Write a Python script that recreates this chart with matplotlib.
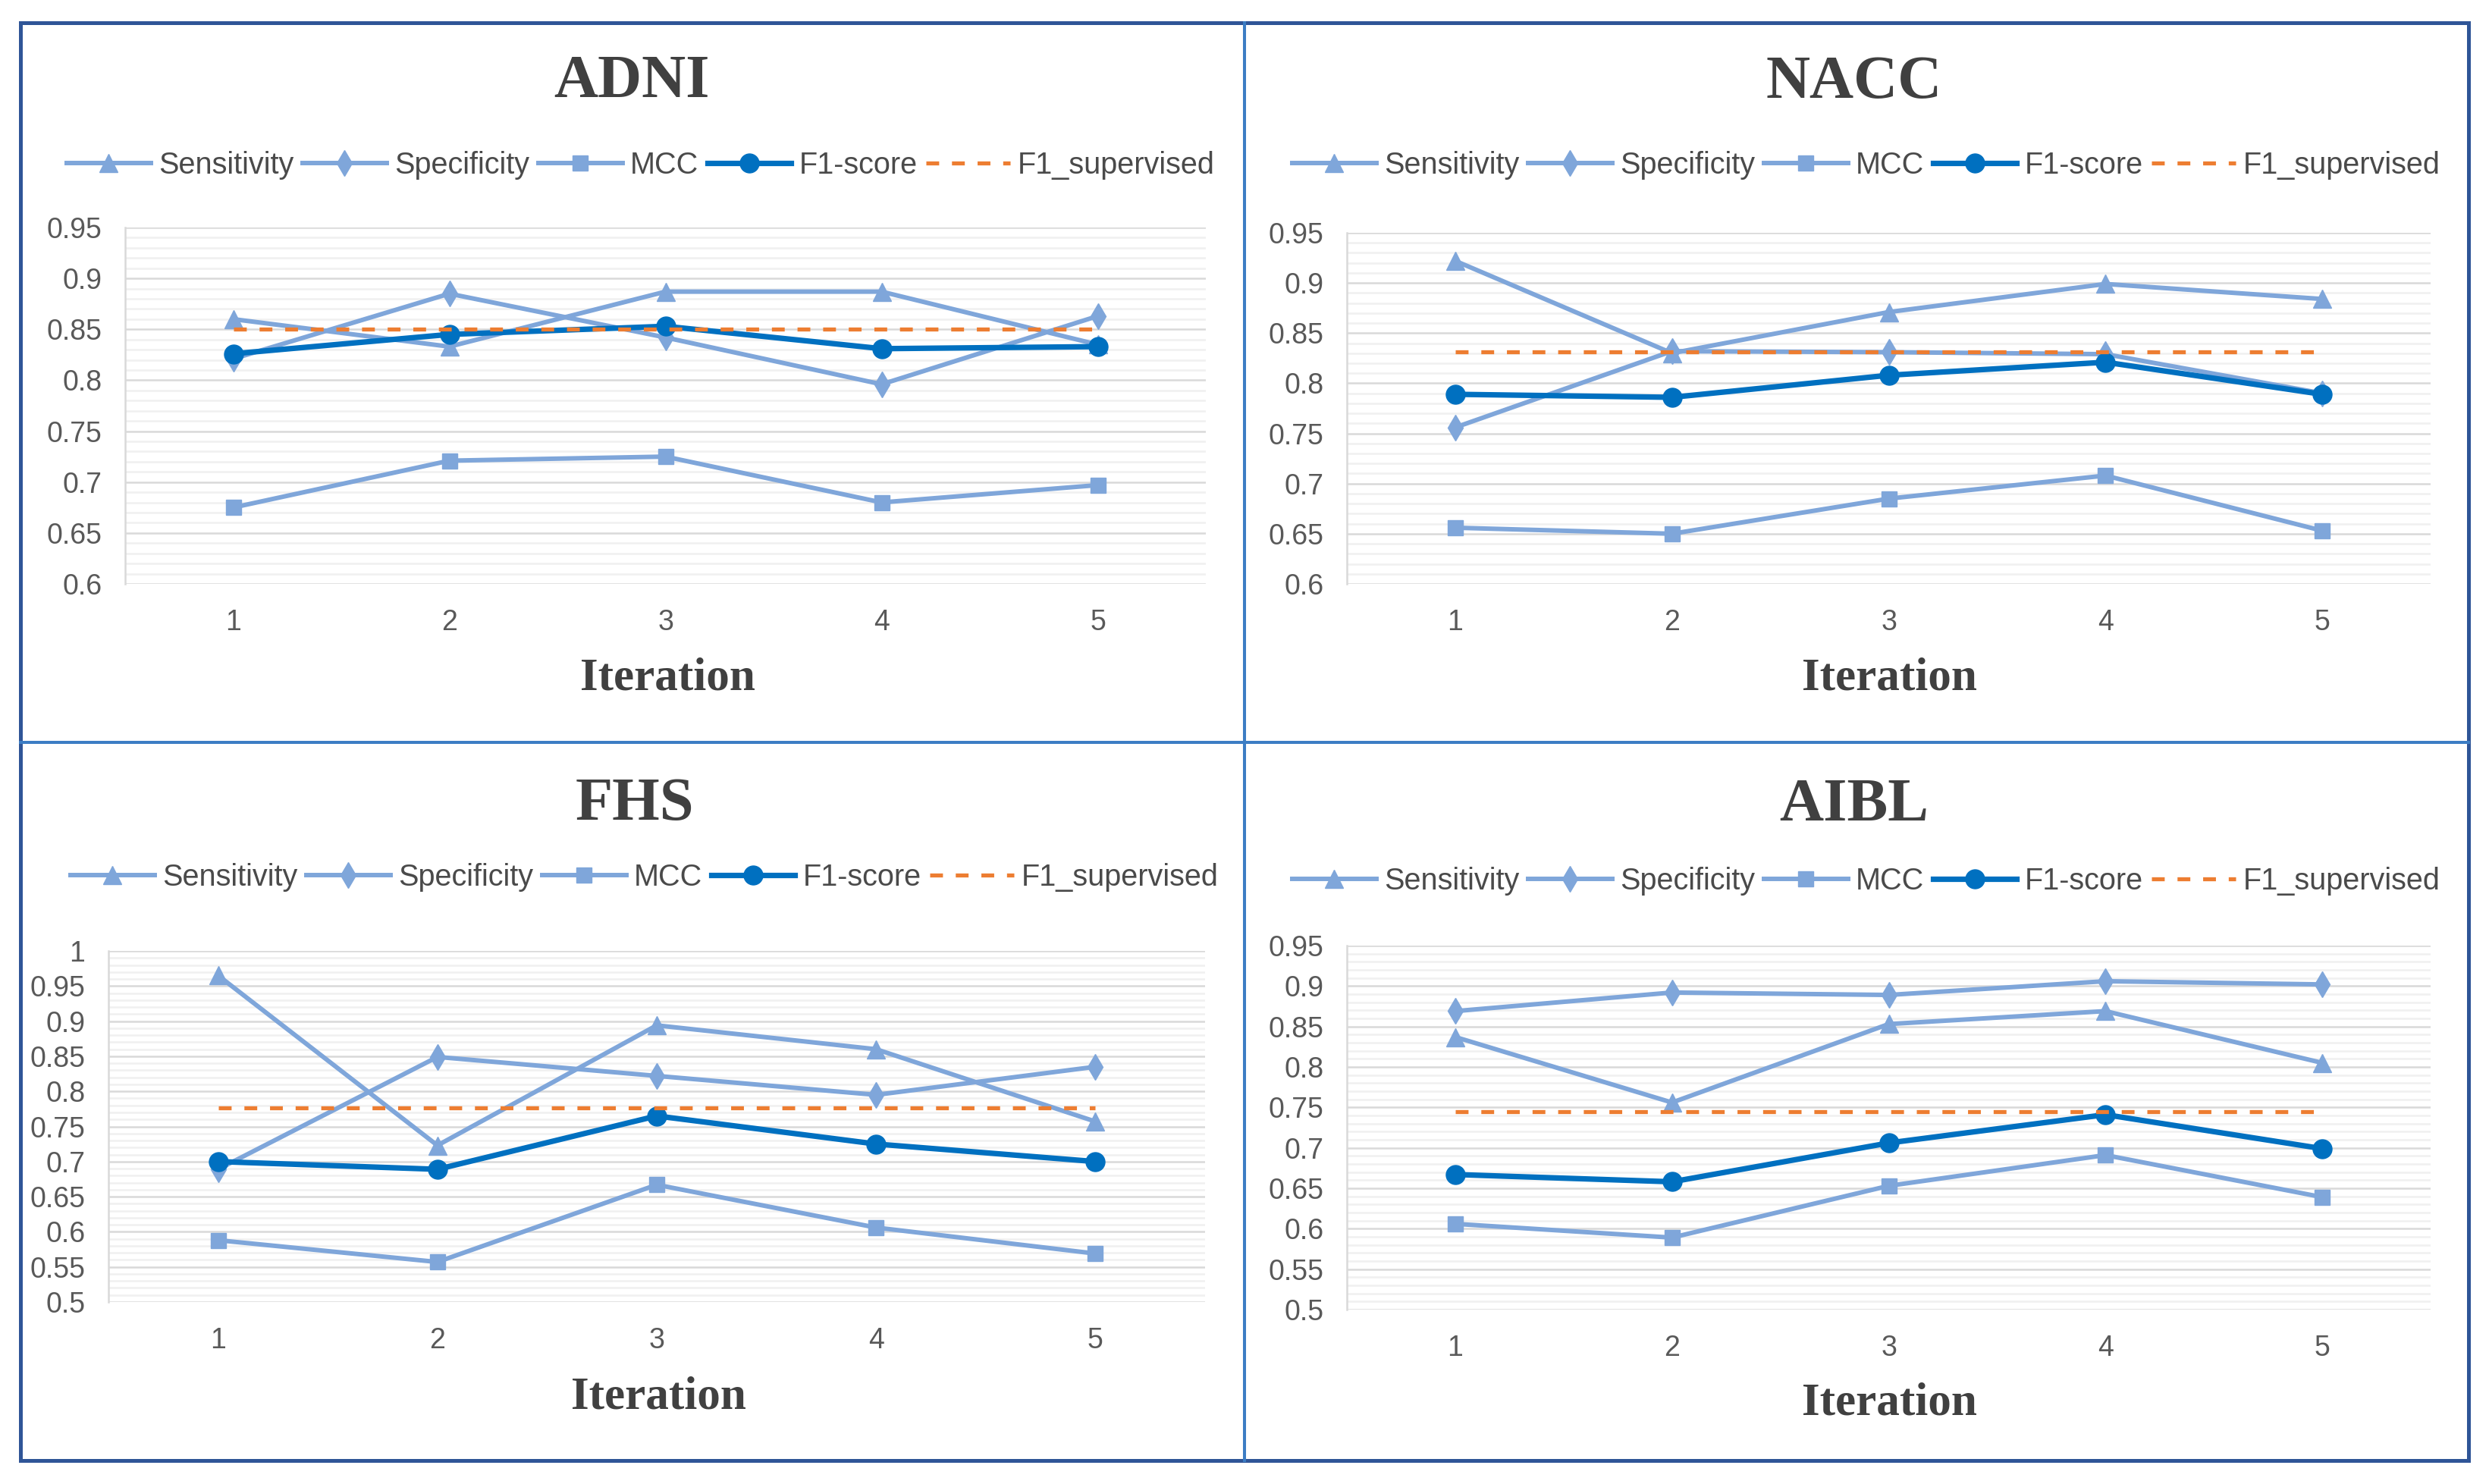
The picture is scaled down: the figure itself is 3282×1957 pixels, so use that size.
import matplotlib
matplotlib.use("Agg")
import matplotlib.pyplot as plt
from matplotlib.lines import Line2D
from matplotlib.patches import Rectangle
from matplotlib.ticker import MultipleLocator, FuncFormatter

# ---------------- data ----------------
iterations = [1, 2, 3, 4, 5]
series_names = ["Sensitivity", "Specificity", "MCC", "F1-score", "F1_supervised"]
dataset_names = ["ADNI", "NACC", "FHS", "AIBL"]

adni_sensitivity = [0.860, 0.833, 0.887, 0.887, 0.835]
adni_specificity = [0.821, 0.885, 0.842, 0.796, 0.863]
adni_mcc = [0.675, 0.721, 0.725, 0.680, 0.697]
adni_f1 = [0.826, 0.845, 0.853, 0.831, 0.833]
adni_f1_supervised = 0.850

nacc_sensitivity = [0.922, 0.830, 0.871, 0.899, 0.884]
nacc_specificity = [0.756, 0.832, 0.831, 0.829, 0.790]
nacc_mcc = [0.656, 0.650, 0.685, 0.708, 0.653]
nacc_f1 = [0.789, 0.786, 0.808, 0.821, 0.789]
nacc_f1_supervised = 0.831

fhs_sensitivity = [0.965, 0.723, 0.894, 0.860, 0.757]
fhs_specificity = [0.689, 0.849, 0.822, 0.795, 0.835]
fhs_mcc = [0.588, 0.557, 0.667, 0.606, 0.569]
fhs_f1 = [0.700, 0.689, 0.765, 0.725, 0.700]
fhs_f1_supervised = 0.776

aibl_sensitivity = [0.837, 0.756, 0.853, 0.869, 0.805]
aibl_specificity = [0.869, 0.892, 0.889, 0.906, 0.902]
aibl_mcc = [0.606, 0.589, 0.653, 0.691, 0.639]
aibl_f1 = [0.667, 0.658, 0.706, 0.741, 0.699]
aibl_f1_supervised = 0.745

y_ranges = {"ADNI": (0.6, 0.95), "NACC": (0.6, 0.95), "FHS": (0.5, 1.0), "AIBL": (0.5, 0.95)}

datasets = {
    "ADNI": (adni_sensitivity, adni_specificity, adni_mcc, adni_f1, adni_f1_supervised),
    "NACC": (nacc_sensitivity, nacc_specificity, nacc_mcc, nacc_f1, nacc_f1_supervised),
    "FHS": (fhs_sensitivity, fhs_specificity, fhs_mcc, fhs_f1, fhs_f1_supervised),
    "AIBL": (aibl_sensitivity, aibl_specificity, aibl_mcc, aibl_f1, aibl_f1_supervised),
}

# ---------------- style ----------------
W, H = 3282, 1957
LIGHT = "#7FA6DA"
DARK = "#0070C0"
ORANGE = "#ED7D31"
TXT = "#595959"
LEG_TXT = "#4A4A4A"
TITLE_C = "#404040"
SANS = ["Liberation Sans", "DejaVu Sans"]
SERIF = ["Liberation Serif", "DejaVu Serif"]

# layout in pixels: left, right, top(ymax), bottom(ymin)
axes_px = {
    "ADNI": (165, 1590, 300, 770),
    "NACC": (1776, 3205, 307, 770),
    "FHS": (143, 1589, 1254, 1717),
    "AIBL": (1776, 3205, 1247, 1727),
}
title_px = {"ADNI": (833, 109), "NACC": (2445, 109), "FHS": (837, 1061), "AIBL": (2445, 1063)}
legend_px = {"ADNI": (845, 218), "NACC": (2461, 218), "FHS": (850, 1157), "AIBL": (2461, 1162)}
xlabel_px = {"ADNI": (880, 894), "NACC": (2491, 894), "FHS": (868, 1842), "AIBL": (2491, 1850)}

fig = plt.figure(figsize=(W / 100, H / 100), dpi=100)
fig.patch.set_facecolor("white")

def fx(x):
    return x / W

def fy(y):
    return 1 - y / H

for name in dataset_names:
    sens, spec, mcc, f1, f1s = datasets[name]
    l, r, t, b = axes_px[name]
    ax = fig.add_axes([fx(l), fy(b), fx(r) - fx(l), fy(t) - fy(b)])
    ymin, ymax = y_ranges[name]

    ax.plot(iterations, sens, color=LIGHT, lw=4.3, marker="^", ms=17, label=series_names[0], zorder=3)
    ax.plot(iterations, spec, color=LIGHT, lw=4.3, marker="d", ms=17, label=series_names[1], zorder=3)
    ax.plot(iterations, mcc, color=LIGHT, lw=4.3, marker="s", ms=14, label=series_names[2], zorder=3)
    ax.plot(iterations, f1, color=DARK, lw=5.2, marker="o", ms=18, label=series_names[3], zorder=4)
    ax.plot(iterations, [f1s] * len(iterations), color=ORANGE, lw=3.8, ls=(0, (3.2, 3.2)),
            label=series_names[4], zorder=5)

    ax.set_xlim(0.5, 5.5)
    ax.set_ylim(ymin, ymax)
    ax.set_xticks(iterations)
    ax.set_xticklabels([str(i) for i in iterations])
    ax.yaxis.set_major_locator(MultipleLocator(0.05))
    ax.yaxis.set_minor_locator(MultipleLocator(0.01))
    ax.yaxis.set_major_formatter(FuncFormatter(lambda v, p: f"{round(v, 2):g}"))
    ax.grid(which="major", axis="y", color="#D9D9D9", lw=1.8, zorder=0)
    ax.grid(which="minor", axis="y", color="#F0F0F0", lw=1.8, zorder=0)
    ax.set_axisbelow(True)
    for s in ["top", "right", "bottom"]:
        ax.spines[s].set_visible(False)
    ax.spines["left"].set_color("#D9D9D9")
    ax.spines["left"].set_linewidth(1.8)
    ax.tick_params(axis="both", which="both", length=0, labelcolor=TXT)
    ax.tick_params(axis="y", pad=22)
    ax.tick_params(axis="x", pad=24)
    for lab in ax.get_xticklabels() + ax.get_yticklabels():
        lab.set_fontfamily(SANS)
        lab.set_fontsize(27)

    tx, ty = title_px[name]
    fig.text(fx(tx), fy(ty), name, ha="center", va="center", fontsize=58,
             fontweight="bold", family=SERIF, color=TITLE_C)
    xx, xy = xlabel_px[name]
    fig.text(fx(xx), fy(xy), "Iteration", ha="center", va="center", fontsize=44,
             fontweight="bold", family=SERIF, color=TITLE_C)

    lx, ly = legend_px[name]
    leg = ax.legend(loc="center", bbox_to_anchor=(fx(lx), fy(ly)), bbox_transform=fig.transFigure,
                    ncol=5, frameon=False, handlelength=2.8, handletextpad=0.25,
                    columnspacing=0.3, prop={"family": SANS, "size": 28.5}, borderpad=0)
    for text in leg.get_texts():
        text.set_color(LEG_TXT)

# frame and dividers
fig.add_artist(Rectangle((fx(27), fy(1926)), fx(3255) - fx(27), fy(30) - fy(1926),
                         transform=fig.transFigure, fill=False, edgecolor="#2F5597", lw=3.6))
fig.add_artist(Line2D([fx(1641), fx(1641)], [fy(30), fy(1926)], transform=fig.transFigure,
                      color="#3C7DC4", lw=2.9))
fig.add_artist(Line2D([fx(27), fx(3255)], [fy(979), fy(979)], transform=fig.transFigure,
                      color="#3C7DC4", lw=2.9))

fig.savefig("out.png", dpi=100, facecolor="white")
